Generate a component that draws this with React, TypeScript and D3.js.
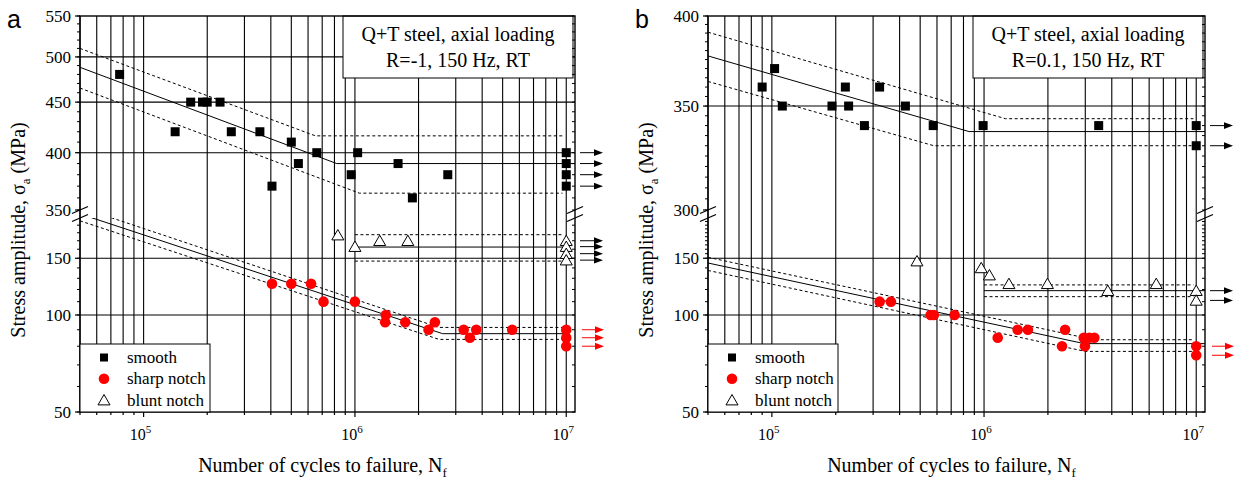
import * as d3 from "d3";

type Pt = [number, number];

// x axis (cycles) – shared by both panels
const X_MIN = 5e4;
const X_MAX = 1.1e7;
const X_MAJOR = [1e5, 1e6, 1e7];
const X_EXP = ["5", "6", "7"];

// ---------- panel a : R = -1 ----------
const A_UPPER_DOMAIN: Pt = [350, 550];
const A_LOWER_DOMAIN: Pt = [50, 200];
const A_UPPER_LABELS = [350, 400, 450, 500, 550];
const A_LOWER_LABELS = [50, 100, 150];
const A_UPPER_GRID = [400, 450, 500];
const A_LOWER_GRID = [100, 150];

const A_SMOOTH: Pt[] = [
  [7.7e4, 480], [1.41e5, 420], [1.67e5, 450], [1.9e5, 450], [2.0e5, 450],
  [2.3e5, 450], [2.6e5, 420], [3.55e5, 420], [4.05e5, 370], [5.0e5, 410],
  [5.4e5, 390], [6.6e5, 400], [9.6e5, 380], [1.03e6, 400], [1.6e6, 390],
  [1.87e6, 360], [2.75e6, 380], [1e7, 400], [1e7, 390], [1e7, 380], [1e7, 370],
];
const A_SHARP: Pt[] = [
  [4.05e5, 125], [5.0e5, 125], [6.2e5, 125], [7.1e5, 110], [1e6, 110],
  [1.4e6, 100], [1.39e6, 95], [1.73e6, 95], [2.23e6, 90], [2.39e6, 95],
  [3.27e6, 90], [3.5e6, 85], [3.75e6, 90], [5.55e6, 90],
  [1e7, 90], [1e7, 85], [1e7, 80],
];
const A_BLUNT: Pt[] = [
  [8.3e5, 177], [1e6, 163], [1.31e6, 170], [1.78e6, 170],
  [1e7, 170], [1e7, 163], [1e7, 155], [1e7, 148],
];
const A_SMOOTH_FIT: Pt[] = [[5e4, 488], [8.2e5, 390], [1.1e7, 390]];
const A_SMOOTH_HI: Pt[] = [[5e4, 510], [6.5e5, 416], [9.6e6, 416]];
const A_SMOOTH_LO: Pt[] = [[5e4, 465], [1.05e6, 364], [9.6e6, 364]];
const A_SHARP_FIT: Pt[] = [[5e4, 206], [2.6e6, 87.5], [1e7, 87.5]];
const A_SHARP_HI: Pt[] = [[5e4, 216], [2.5e6, 91.5], [9.7e6, 91.5]];
const A_SHARP_LO: Pt[] = [[5e4, 196], [2.5e6, 84], [9.7e6, 84]];
const A_BLUNT_FIT: Pt[] = [[1e6, 162.5], [1e7, 162.5]];
const A_BLUNT_HI: Pt[] = [[1e6, 177.5], [9.7e6, 177.5]];
const A_BLUNT_LO: Pt[] = [[1e6, 147], [9.7e6, 147]];
const A_RUNOUT_SMOOTH = [400, 390, 380, 370];
const A_RUNOUT_BLUNT = [170, 163, 155, 148];
const A_RUNOUT_SHARP = [90, 85, 80];

// ---------- panel b : R = 0.1 ----------
const B_UPPER_DOMAIN: Pt = [300, 400];
const B_LOWER_DOMAIN: Pt = [50, 200];
const B_UPPER_LABELS = [300, 350, 400];
const B_LOWER_LABELS = [50, 100, 150];
const B_UPPER_GRID = [350];
const B_LOWER_GRID = [100, 150];

const B_SMOOTH: Pt[] = [
  [9.0e4, 360], [1.03e5, 370], [1.12e5, 350], [1.92e5, 350], [2.22e5, 360],
  [2.3e5, 350], [2.73e5, 340], [3.22e5, 360], [4.26e5, 350], [5.76e5, 340],
  [9.9e5, 340], [3.47e6, 340], [1e7, 340], [1e7, 330],
];
const B_SHARP: Pt[] = [
  [3.22e5, 110], [3.64e5, 110], [5.6e5, 100], [5.8e5, 100], [7.26e5, 100],
  [1.16e6, 85], [1.44e6, 90], [1.61e6, 90], [2.33e6, 80], [2.41e6, 90],
  [2.95e6, 85], [2.99e6, 80], [3.13e6, 85], [3.31e6, 85],
  [1e7, 80], [1e7, 75],
];
const B_BLUNT: Pt[] = [
  [4.83e5, 147], [9.7e5, 140], [1.06e6, 133], [1.31e6, 125], [1.99e6, 125],
  [3.83e6, 119], [6.48e6, 125], [1e7, 119], [1e7, 111],
];
const B_SMOOTH_FIT: Pt[] = [[5e4, 377], [8.5e5, 337], [1.1e7, 337]];
const B_SMOOTH_HI: Pt[] = [[5e4, 390.5], [1.26e6, 343.5], [9.7e6, 343.5]];
const B_SMOOTH_LO: Pt[] = [[5e4, 363], [5.8e5, 330], [9.7e6, 330]];
const B_SHARP_FIT: Pt[] = [[5e4, 145], [2.97e6, 81.5], [1.1e7, 81.5]];
const B_SHARP_HI: Pt[] = [[5e4, 151], [3.3e6, 83.8], [9.7e6, 83.8]];
const B_SHARP_LO: Pt[] = [[5e4, 137.5], [3.0e6, 77.1], [9.7e6, 77.1]];
const B_BLUNT_FIT: Pt[] = [[1e6, 119], [1.1e7, 119]];
const B_BLUNT_HI: Pt[] = [[1e6, 124], [9.7e6, 124]];
const B_BLUNT_LO: Pt[] = [[1e6, 114], [9.7e6, 114]];
const B_RUNOUT_SMOOTH = [340, 330];
const B_RUNOUT_BLUNT = [119, 111];
const B_RUNOUT_SHARP = [80, 75];

const LEGEND = ["smooth", "sharp notch", "blunt notch"];
const RED = "#ff0000";
const SERIF = "'Liberation Serif', 'Times New Roman', serif";
const SANS = "'Liberation Sans', Arial, sans-serif";

// vertical layout of the broken y axis
const TOP = 16;
const UPPER_BOTTOM = 210;
const LOWER_TOP = 218;
const BOTTOM = 412;

type PanelCfg = {
  id: string;
  letter: string;
  left: number;
  right: number;
  title: string[];
  upperDomain: Pt;
  lowerDomain: Pt;
  upperLabels: number[];
  lowerLabels: number[];
  upperGrid: number[];
  lowerGrid: number[];
  upperMinor: number[];
  lowerMinor: number[];
  smooth: Pt[];
  sharp: Pt[];
  blunt: Pt[];
  upperLines: { pts: Pt[]; dashed: boolean }[];
  lowerLines: { pts: Pt[]; dashed: boolean }[];
  runSmooth: number[];
  runBlunt: number[];
  runSharp: number[];
};

const minors = (lo: number, hi: number, step: number) =>
  d3.range(lo, hi + 0.001, step);

const PANELS: PanelCfg[] = [
  {
    id: "a",
    letter: "a",
    left: 80,
    right: 575,
    title: ["Q+T steel, axial loading", "R=-1, 150 Hz, RT"],
    upperDomain: A_UPPER_DOMAIN,
    lowerDomain: A_LOWER_DOMAIN,
    upperLabels: A_UPPER_LABELS,
    lowerLabels: A_LOWER_LABELS,
    upperGrid: A_UPPER_GRID,
    lowerGrid: A_LOWER_GRID,
    upperMinor: minors(350, 550, 10),
    lowerMinor: minors(50, 190, 10),
    smooth: A_SMOOTH,
    sharp: A_SHARP,
    blunt: A_BLUNT,
    upperLines: [
      { pts: A_SMOOTH_FIT, dashed: false },
      { pts: A_SMOOTH_HI, dashed: true },
      { pts: A_SMOOTH_LO, dashed: true },
    ],
    lowerLines: [
      { pts: A_SHARP_FIT, dashed: false },
      { pts: A_SHARP_HI, dashed: true },
      { pts: A_SHARP_LO, dashed: true },
      { pts: A_BLUNT_FIT, dashed: false },
      { pts: A_BLUNT_HI, dashed: true },
      { pts: A_BLUNT_LO, dashed: true },
    ],
    runSmooth: A_RUNOUT_SMOOTH,
    runBlunt: A_RUNOUT_BLUNT,
    runSharp: A_RUNOUT_SHARP,
  },
  {
    id: "b",
    letter: "b",
    left: 708,
    right: 1205,
    title: ["Q+T steel, axial loading", "R=0.1, 150 Hz, RT"],
    upperDomain: B_UPPER_DOMAIN,
    lowerDomain: B_LOWER_DOMAIN,
    upperLabels: B_UPPER_LABELS,
    lowerLabels: B_LOWER_LABELS,
    upperGrid: B_UPPER_GRID,
    lowerGrid: B_LOWER_GRID,
    upperMinor: minors(300, 400, 5),
    lowerMinor: [...minors(50, 150, 10), ...minors(155, 195, 5)],
    smooth: B_SMOOTH,
    sharp: B_SHARP,
    blunt: B_BLUNT,
    upperLines: [
      { pts: B_SMOOTH_FIT, dashed: false },
      { pts: B_SMOOTH_HI, dashed: true },
      { pts: B_SMOOTH_LO, dashed: true },
    ],
    lowerLines: [
      { pts: B_SHARP_FIT, dashed: false },
      { pts: B_SHARP_HI, dashed: true },
      { pts: B_SHARP_LO, dashed: true },
      { pts: B_BLUNT_FIT, dashed: false },
      { pts: B_BLUNT_HI, dashed: true },
      { pts: B_BLUNT_LO, dashed: true },
    ],
    runSmooth: B_RUNOUT_SMOOTH,
    runBlunt: B_RUNOUT_BLUNT,
    runSharp: B_RUNOUT_SHARP,
  },
];

const Square = ({ cx, cy }: { cx: number; cy: number }) => (
  <rect x={cx - 4.5} y={cy - 4.5} width={9} height={9} fill="#000" />
);
const Dot = ({ cx, cy }: { cx: number; cy: number }) => (
  <circle cx={cx} cy={cy} r={5.3} fill={RED} />
);
const Tri = ({ cx, cy }: { cx: number; cy: number }) => (
  <path
    d={`M${cx},${cy - 5.6}L${cx + 6},${cy + 4.8}L${cx - 6},${cy + 4.8}Z`}
    fill="#fff"
    stroke="#000"
    strokeWidth={1}
  />
);

const Arrow = ({ x1, x2, y, color }: { x1: number; x2: number; y: number; color: string }) => (
  <g>
    <line x1={x1} x2={x2 - 7} y1={y} y2={y} stroke={color} strokeWidth={1} />
    <path d={`M${x2},${y}L${x2 - 9},${y - 3.4}L${x2 - 9},${y + 3.4}Z`} fill={color} />
  </g>
);

function Panel({ cfg }: { cfg: PanelCfg }) {
  const { left, right } = cfg;
  const x = d3.scaleLog().domain([X_MIN, X_MAX]).range([left, right]);
  const yU = d3.scaleLog().domain(cfg.upperDomain).range([UPPER_BOTTOM, TOP]);
  const yL = d3.scaleLog().domain(cfg.lowerDomain).range([BOTTOM, LOWER_TOP]);
  const lineU = d3.line<Pt>().x((d) => x(d[0])).y((d) => yU(d[1]));
  const lineL = d3.line<Pt>().x((d) => x(d[0])).y((d) => yL(d[1]));

  const xTicks = x.ticks().filter((t) => t >= X_MIN && t <= X_MAX);
  const isMajor = (t: number) => X_MAJOR.some((m) => Math.abs(m - t) / m < 1e-6);

  const boxX1 = right - 232;
  const boxX2 = right - 2;
  const midX = (left + right) / 2;
  const brk = (xx: number, yy: number) => (
    <line x1={xx - 8} y1={yy + 3.5} x2={xx + 8} y2={yy - 3.5} stroke="#000" strokeWidth={1.3} />
  );

  return (
    <g>
      <defs>
        <clipPath id={`clipU-${cfg.id}`}>
          <rect x={left} y={TOP} width={right - left} height={UPPER_BOTTOM - TOP} />
        </clipPath>
        <clipPath id={`clipL-${cfg.id}`}>
          <rect x={left} y={LOWER_TOP} width={right - left} height={BOTTOM - LOWER_TOP} />
        </clipPath>
      </defs>

      {/* grid */}
      {xTicks.map((t) => (
        <line key={`vg${t}`} x1={x(t)} x2={x(t)} y1={TOP} y2={BOTTOM} stroke="#000" strokeWidth={1.1} />
      ))}
      {cfg.upperGrid.map((v) => (
        <line key={`ug${v}`} x1={left} x2={right} y1={yU(v)} y2={yU(v)} stroke="#000" strokeWidth={1.1} />
      ))}
      {cfg.lowerGrid.map((v) => (
        <line key={`lg${v}`} x1={left} x2={right} y1={yL(v)} y2={yL(v)} stroke="#000" strokeWidth={1.1} />
      ))}

      {/* title box */}
      <rect x={boxX1} y={TOP} width={boxX2 - boxX1} height={62} fill="#fff" stroke="#000" strokeWidth={1} />
      {cfg.title.map((s, i) => (
        <text
          key={s}
          x={(boxX1 + boxX2) / 2}
          y={41 + i * 26}
          textAnchor="middle"
          fontFamily={SERIF}
          fontSize={20}
        >
          {s}
        </text>
      ))}

      {/* fit lines */}
      <g clipPath={`url(#clipU-${cfg.id})`} fill="none" stroke="#000" strokeWidth={1}>
        {cfg.upperLines.map((l, i) => (
          <path key={i} d={lineU(l.pts) ?? ""} strokeDasharray={l.dashed ? "3 2.5" : undefined} />
        ))}
      </g>
      <g clipPath={`url(#clipL-${cfg.id})`} fill="none" stroke="#000" strokeWidth={1}>
        {cfg.lowerLines.map((l, i) => (
          <path key={i} d={lineL(l.pts) ?? ""} strokeDasharray={l.dashed ? "3 2.5" : undefined} />
        ))}
      </g>

      {/* markers */}
      {cfg.smooth.map((d, i) => (
        <Square key={`s${i}`} cx={x(d[0])} cy={yU(d[1])} />
      ))}
      {cfg.sharp.map((d, i) => (
        <Dot key={`r${i}`} cx={x(d[0])} cy={yL(d[1])} />
      ))}
      {cfg.blunt.map((d, i) => (
        <Tri key={`t${i}`} cx={x(d[0])} cy={yL(d[1])} />
      ))}

      {/* run-out arrows */}
      {cfg.runSmooth.map((v, i) => (
        <Arrow key={`as${i}`} x1={right + 5} x2={right + 28} y={yU(v)} color="#000" />
      ))}
      {cfg.runBlunt.map((v, i) => (
        <Arrow key={`ab${i}`} x1={right + 5} x2={right + 28} y={yL(v)} color="#000" />
      ))}
      {cfg.runSharp.map((v, i) => (
        <Arrow key={`ar${i}`} x1={right + 7} x2={right + 29} y={yL(v)} color={RED} />
      ))}

      {/* frame */}
      <rect x={left} y={TOP} width={right - left} height={BOTTOM - TOP} fill="none" stroke="#000" strokeWidth={1.4} />

      {/* y ticks */}
      {cfg.upperMinor.map((v) => (
        <g key={`um${v}`}>
          <line x1={left - 3} x2={left} y1={yU(v)} y2={yU(v)} stroke="#000" />
          <line x1={right} x2={right - 3} y1={yU(v)} y2={yU(v)} stroke="#000" />
        </g>
      ))}
      {cfg.lowerMinor.map((v) => (
        <g key={`lm${v}`}>
          <line x1={left - 3} x2={left} y1={yL(v)} y2={yL(v)} stroke="#000" />
          <line x1={right} x2={right - 3} y1={yL(v)} y2={yL(v)} stroke="#000" />
        </g>
      ))}
      {cfg.upperLabels.map((v) => (
        <g key={`ul${v}`}>
          <line x1={left - 5} x2={left} y1={yU(v)} y2={yU(v)} stroke="#000" strokeWidth={1.2} />
          <text x={left - 9} y={yU(v)} dy="0.35em" textAnchor="end" fontFamily={SERIF} fontSize={17}>
            {v}
          </text>
        </g>
      ))}
      {cfg.lowerLabels.map((v) => (
        <g key={`ll${v}`}>
          <line x1={left - 5} x2={left} y1={yL(v)} y2={yL(v)} stroke="#000" strokeWidth={1.2} />
          <text x={left - 9} y={yL(v)} dy="0.35em" textAnchor="end" fontFamily={SERIF} fontSize={17}>
            {v}
          </text>
        </g>
      ))}

      {/* axis breaks */}
      {brk(left, UPPER_BOTTOM)}
      {brk(left, LOWER_TOP)}
      {brk(right, UPPER_BOTTOM)}
      {brk(right, LOWER_TOP)}

      {/* x ticks */}
      {xTicks.map((t) => (
        <line
          key={`xt${t}`}
          x1={x(t)}
          x2={x(t)}
          y1={BOTTOM}
          y2={BOTTOM + (isMajor(t) ? 5 : 3)}
          stroke="#000"
          strokeWidth={1.2}
        />
      ))}
      {X_MAJOR.map((t, i) => (
        <text key={`xl${t}`} x={x(t) - 3} y={440} textAnchor="middle" fontFamily={SERIF} fontSize={16}>
          10
          <tspan fontSize={11} dy={-7}>
            {X_EXP[i]}
          </tspan>
        </text>
      ))}

      {/* axis titles */}
      <text x={midX - 5} y={472} textAnchor="middle" fontFamily={SERIF} fontSize={20}>
        Number of cycles to failure, N
        <tspan fontSize={13} dy={5}>
          f
        </tspan>
      </text>
      <text
        transform={`translate(${left - 55},230) rotate(-90)`}
        textAnchor="middle"
        fontFamily={SERIF}
        fontSize={20}
      >
        Stress amplitude, σ
        <tspan fontSize={13} dy={5}>
          a
        </tspan>
        <tspan dy={-5}> (MPa)</tspan>
      </text>

      {/* legend */}
      <rect x={left} y={344} width={130} height={BOTTOM - 344} fill="#fff" stroke="#000" strokeWidth={1} />
      {LEGEND.map((s, i) => {
        const cy = 357.5 + i * 21.3;
        const cx = left + 24;
        return (
          <g key={s}>
            {i === 0 && <rect x={cx - 4} y={cy - 4} width={8} height={8} fill="#000" />}
            {i === 1 && <Dot cx={cx} cy={cy} />}
            {i === 2 && <Tri cx={cx} cy={cy} />}
            <text x={left + 47} y={cy} dy="0.33em" fontFamily={SERIF} fontSize={17}>
              {s}
            </text>
          </g>
        );
      })}

      {/* panel letter */}
      <text x={left - 73} y={28} fontFamily={SANS} fontSize={25}>
        {cfg.letter}
      </text>
    </g>
  );
}

export default function App() {
  return (
    <div style={{ position: "absolute", left: 0, top: 0 }}>
      <svg width={1241} height={480} viewBox="0 0 1241 480" style={{ display: "block", background: "#fff" }}>
        {PANELS.map((p) => (
          <Panel key={p.id} cfg={p} />
        ))}
      </svg>
    </div>
  );
}
